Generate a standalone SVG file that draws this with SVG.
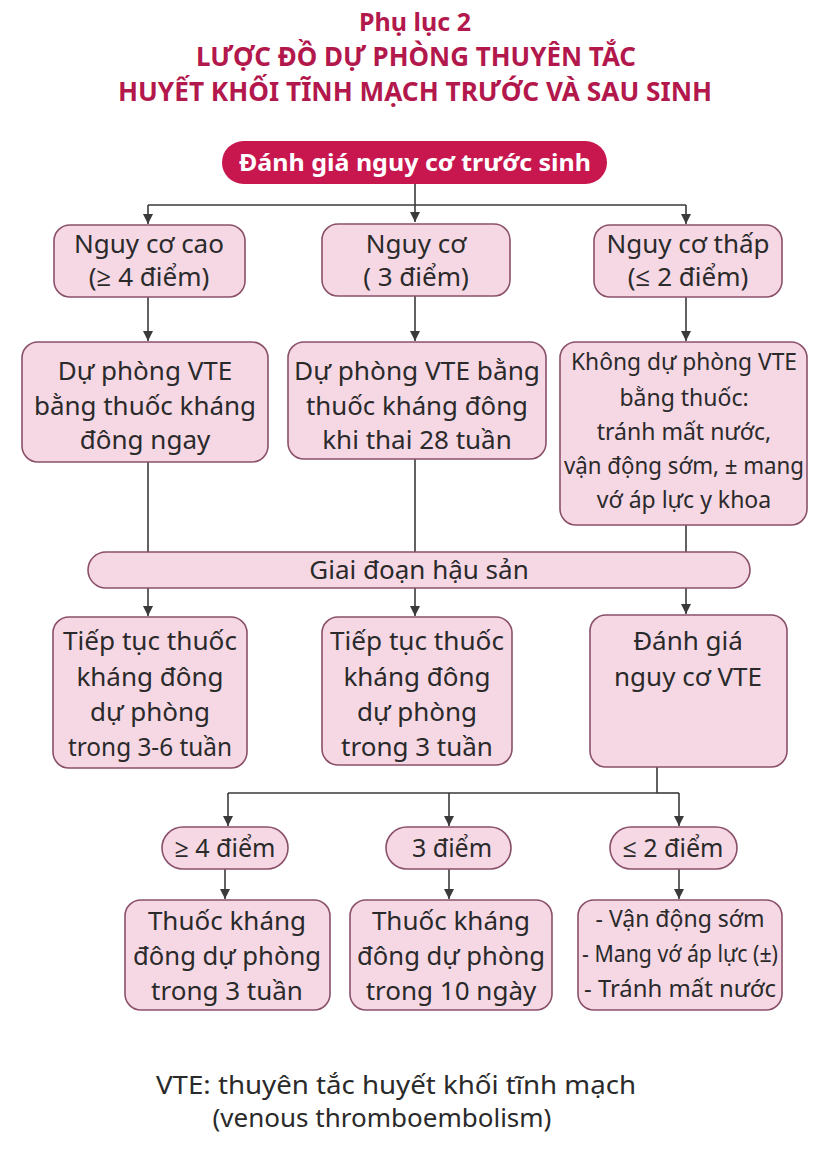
<svg xmlns="http://www.w3.org/2000/svg" width="821" height="1157" viewBox="0 0 821 1157">
<style>
.title{font-family:"Noto Sans","Open Sans",sans-serif;font-weight:700;fill:#b3184c;text-anchor:middle}
.box{fill:#f6d8e5;stroke:#8a5069;stroke-width:1.6}
.t{font-family:"Noto Sans","Open Sans",sans-serif;font-size:26px;fill:#2a2a2a;text-anchor:middle}
.s{font-size:23px}
.p{font-size:25px}
.ln{fill:none;stroke:#3a3a3a;stroke-width:1.6}
.ar{fill:none;stroke:#3a3a3a;stroke-width:1.6;marker-end:url(#ah)}
</style>
<defs>
<marker id="ah" markerUnits="userSpaceOnUse" markerWidth="10" markerHeight="12" refX="10" refY="5" orient="auto">
<path d="M0,0 L10,5 L0,10 z" fill="#3a3a3a"/>
</marker>
</defs>
<rect width="821" height="1157" fill="#ffffff"/>
<g id="title">
<text class="title" x="415" y="31" font-size="25">Phụ lục 2</text>
<text class="title" x="416" y="66" font-size="26" textLength="440" lengthAdjust="spacingAndGlyphs">LƯỢC ĐỒ DỰ PHÒNG THUYÊN TẮC</text>
<text class="title" x="415" y="101" font-size="26" textLength="594" lengthAdjust="spacingAndGlyphs">HUYẾT KHỐI TĨNH MẠCH TRƯỚC VÀ SAU SINH</text>
</g>
<g id="connectors">
<path class="ar" d="M415,184 V222"/>
<path class="ln" d="M148,205 H686"/>
<path class="ar" d="M148,205 V224"/>
<path class="ar" d="M686,205 V224"/>
<path class="ar" d="M148,297 V341"/>
<path class="ar" d="M415,296 V341"/>
<path class="ar" d="M686,297 V341"/>
<path class="ln" d="M148,462 V552"/>
<path class="ln" d="M415,459 V552"/>
<path class="ln" d="M686,525 V552"/>
<path class="ar" d="M148,588 V616"/>
<path class="ar" d="M415,588 V616"/>
<path class="ar" d="M686,588 V614"/>
<path class="ln" d="M657,767 V793 H228"/>
<path class="ln" d="M657,793 H679"/>
<path class="ar" d="M228,793 V826"/>
<path class="ar" d="M449,793 V826"/>
<path class="ar" d="M679,793 V826"/>
<path class="ar" d="M225,869 V899"/>
<path class="ar" d="M449,869 V899"/>
<path class="ar" d="M679,869 V899"/>
</g>
<g id="n-antenatal">
<rect x="222" y="141" width="385" height="43" rx="21.5" fill="#c8174f"/>
<text x="415" y="171" font-family="'Noto Sans','Open Sans',sans-serif" font-weight="700" font-size="24" fill="#ffffff" text-anchor="middle" textLength="352" lengthAdjust="spacingAndGlyphs">Đánh giá nguy cơ trước sinh</text>
</g>
<g id="n-high">
<rect class="box" x="54" y="225" width="191" height="72" rx="16"/>
<text class="t" x="149" y="253">Nguy cơ cao</text>
<text class="t" x="149" y="286">(≥ 4 điểm)</text>
</g>
<g id="n-mid">
<rect class="box" x="322" y="224" width="188" height="72" rx="16"/>
<text class="t" x="416" y="253">Nguy cơ</text>
<text class="t" x="416" y="286">( 3 điểm)</text>
</g>
<g id="n-low">
<rect class="box" x="594" y="225" width="188" height="72" rx="16"/>
<text class="t" x="688" y="253">Nguy cơ thấp</text>
<text class="t" x="688" y="286">(≤ 2 điểm)</text>
</g>
<g id="n-high-rx">
<rect class="box" x="22" y="342" width="246" height="120" rx="16"/>
<text class="t" x="145" y="380">Dự phòng VTE</text>
<text class="t" x="145" y="415" textLength="222" lengthAdjust="spacingAndGlyphs">bằng thuốc kháng</text>
<text class="t" x="145" y="449">đông ngay</text>
</g>
<g id="n-mid-rx">
<rect class="box" x="288" y="342" width="258" height="117" rx="16"/>
<text class="t" x="417" y="380" textLength="246" lengthAdjust="spacingAndGlyphs">Dự phòng VTE bằng</text>
<text class="t" x="417" y="415" textLength="222" lengthAdjust="spacingAndGlyphs">thuốc kháng đông</text>
<text class="t" x="417" y="449">khi thai 28 tuần</text>
</g>
<g id="n-low-rx">
<rect class="box" x="560" y="342" width="247" height="183" rx="16"/>
<text class="t s" x="684" y="370" textLength="226" lengthAdjust="spacingAndGlyphs">Không dự phòng VTE</text>
<text class="t s" x="684" y="406">bằng thuốc:</text>
<text class="t s" x="684" y="440">tránh mất nước,</text>
<text class="t s" x="684" y="474" textLength="240" lengthAdjust="spacingAndGlyphs">vận động sớm, ± mang</text>
<text class="t s" x="684" y="508">vớ áp lực y khoa</text>
</g>
<g id="n-postpartum">
<rect class="box" x="88" y="552" width="662" height="36" rx="18"/>
<text class="t" x="419" y="579" font-size="24">Giai đoạn hậu sản</text>
</g>
<g id="n-cont-36">
<rect class="box" x="53" y="617" width="194" height="151" rx="16"/>
<text class="t" x="150" y="650" textLength="174" lengthAdjust="spacingAndGlyphs">Tiếp tục thuốc</text>
<text class="t" x="150" y="686">kháng đông</text>
<text class="t" x="150" y="721">dự phòng</text>
<text class="t" x="150" y="756" textLength="164" lengthAdjust="spacingAndGlyphs">trong 3-6 tuần</text>
</g>
<g id="n-cont-3">
<rect class="box" x="322" y="617" width="190" height="148" rx="16"/>
<text class="t" x="417" y="650" textLength="174" lengthAdjust="spacingAndGlyphs">Tiếp tục thuốc</text>
<text class="t" x="417" y="686">kháng đông</text>
<text class="t" x="417" y="721">dự phòng</text>
<text class="t" x="417" y="756">trong 3 tuần</text>
</g>
<g id="n-assess">
<rect class="box" x="590" y="615" width="197" height="152" rx="16"/>
<text class="t" x="688" y="650">Đánh giá</text>
<text class="t" x="688" y="686">nguy cơ VTE</text>
</g>
<g id="n-p4">
<rect class="box" x="162" y="827" width="126" height="42" rx="21"/>
<text class="t p" x="225" y="857">≥ 4 điểm</text>
</g>
<g id="n-p3">
<rect class="box" x="386" y="827" width="125" height="42" rx="21"/>
<text class="t p" x="452" y="857">3 điểm</text>
</g>
<g id="n-p2">
<rect class="box" x="610" y="827" width="127" height="42" rx="21"/>
<text class="t p" x="673" y="857">≤ 2 điểm</text>
</g>
<g id="n-r4">
<rect class="box" x="125" y="900" width="205" height="110" rx="16"/>
<text class="t" x="227" y="930">Thuốc kháng</text>
<text class="t" x="227" y="965" textLength="188" lengthAdjust="spacingAndGlyphs">đông dự phòng</text>
<text class="t" x="227" y="1000">trong 3 tuần</text>
</g>
<g id="n-r3">
<rect class="box" x="350" y="900" width="202" height="110" rx="16"/>
<text class="t" x="451" y="930">Thuốc kháng</text>
<text class="t" x="451" y="965" textLength="188" lengthAdjust="spacingAndGlyphs">đông dự phòng</text>
<text class="t" x="451" y="1000">trong 10 ngày</text>
</g>
<g id="n-r2">
<rect class="box" x="578" y="900" width="204" height="110" rx="16"/>
<text class="t s" x="680" y="927">- Vận động sớm</text>
<text class="t s" x="680" y="962" textLength="196" lengthAdjust="spacingAndGlyphs">- Mang vớ áp lực (±)</text>
<text class="t s" x="680" y="997" textLength="192" lengthAdjust="spacingAndGlyphs">- Tránh mất nước</text>
</g>
<g id="footer">
<text class="t" x="396" y="1094" font-size="27" fill="#333" textLength="480" lengthAdjust="spacingAndGlyphs">VTE: thuyên tắc huyết khối tĩnh mạch</text>
<text class="t" x="382" y="1127" font-size="27" fill="#333">(venous thromboembolism)</text>
</g>
</svg>
